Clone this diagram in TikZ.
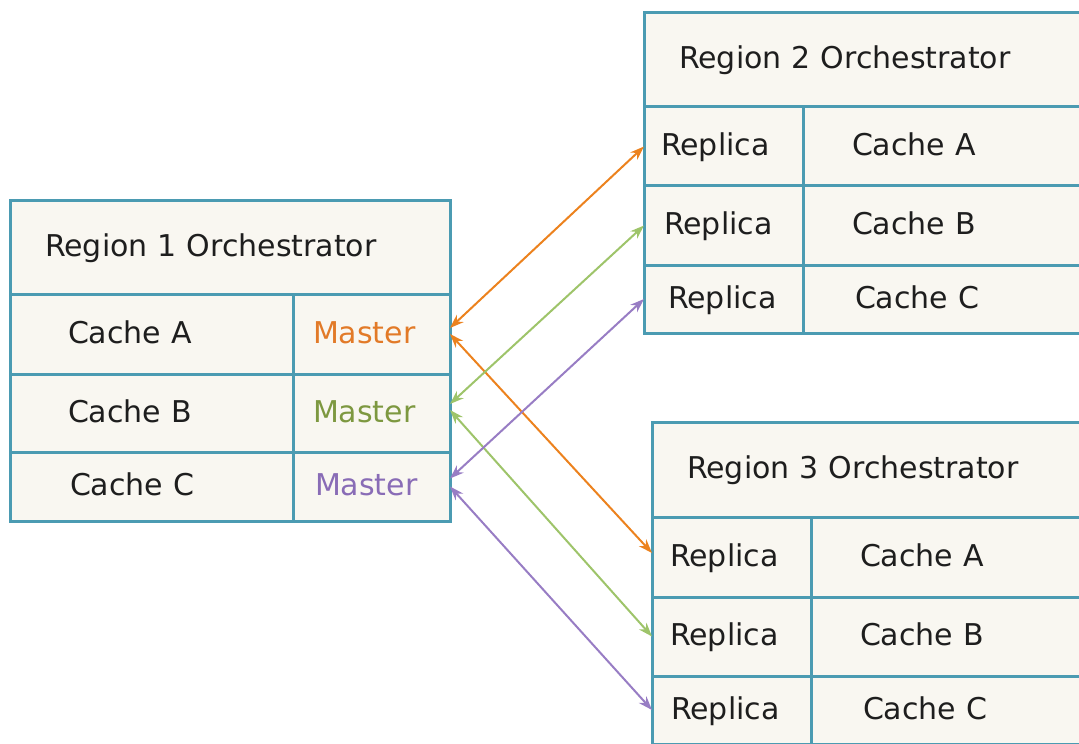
\documentclass[tikz,border=0pt]{standalone}
\usepackage{fontspec}
\setmainfont{DejaVu Sans}
\usetikzlibrary{positioning,arrows.meta}

\definecolor{tblline}{RGB}{75,155,178}
\definecolor{tblfill}{RGB}{249,247,241}
\definecolor{syncorange}{RGB}{236,130,30}
\definecolor{syncgreen}{RGB}{158,196,106}
\definecolor{syncpurple}{RGB}{152,125,196}
\definecolor{masterorange}{RGB}{226,122,40}
\definecolor{mastergreen}{RGB}{125,152,64}
\definecolor{masterpurple}{RGB}{137,108,182}
\definecolor{celltext}{RGB}{30,30,30}

\begin{document}
\begin{tikzpicture}[
  font=\fontsize{15}{18}\selectfont,
  cell/.style={draw=tblline, fill=tblfill, line width=1.5pt, outer sep=0pt, text=celltext,
    inner ysep=0pt, align=left, text height=11pt, text depth=2pt},
  header/.style={cell, inner xsep=17.5pt, text width=#1},
  sync/.style={<->, >={Stealth[length=7pt,width=5pt]}, line width=1pt}
]
% page frame
\useasboundingbox (0,0) rectangle (539.5pt,-371.5pt);
\clip (0,0) rectangle (539.5pt,-371.5pt);

% region 1 (masters)
\node[header=185pt, minimum height=47pt, anchor=north west] (h1) at (5pt,-100pt) {Region 1 Orchestrator};
\node[cell, inner xsep=29pt, text width=83.5pt, minimum height=40pt, below right=0pt and 0pt of h1.south west] (c1a) {Cache A};
\node[cell, inner xsep=10pt, text width=58.5pt, minimum height=40pt, right=0pt of c1a, text=masterorange] (m1a) {Master};
\node[cell, inner xsep=29pt, text width=83.5pt, minimum height=39pt, below right=0pt and 0pt of c1a.south west] (c1b) {Cache B};
\node[cell, inner xsep=10pt, text width=58.5pt, minimum height=39pt, right=0pt of c1b, text=mastergreen] (m1b) {Master};
\node[cell, inner xsep=30pt, text width=81.5pt, minimum height=34.5pt, below right=0pt and 0pt of c1b.south west] (c1c) {Cache C};
\node[cell, inner xsep=11pt, text width=56.5pt, minimum height=34.5pt, right=0pt of c1c, text=masterpurple] (m1c) {Master};

% region 2 (replicas)
\node[header=205pt, minimum height=47pt, anchor=north west] (h2) at (322pt,-6.5pt) {Region 2 Orchestrator};
\node[cell, inner xsep=8.5pt, text width=62.5pt, minimum height=39.5pt, below right=0pt and 0pt of h2.south west] (r2a) {Replica};
\node[cell, inner xsep=24.5pt, text width=111.5pt, minimum height=39.5pt, right=0pt of r2a] (c2a) {Cache A};
\node[cell, inner xsep=10pt, text width=59.5pt, minimum height=39.5pt, below right=0pt and 0pt of r2a.south west] (r2b) {Replica};
\node[cell, inner xsep=24.5pt, text width=111.5pt, minimum height=39.5pt, right=0pt of r2b] (c2b) {Cache B};
\node[cell, inner xsep=12pt, text width=55.5pt, minimum height=34pt, below right=0pt and 0pt of r2b.south west] (r2c) {Replica};
\node[cell, inner xsep=26pt, text width=108.5pt, minimum height=34pt, right=0pt of r2c] (c2c) {Cache C};

% region 3 (replicas)
\node[header=205pt, minimum height=47.5pt, anchor=north west] (h3) at (326pt,-211pt) {Region 3 Orchestrator};
\node[cell, inner xsep=9pt, text width=61.5pt, minimum height=40pt, below right=0pt and 0pt of h3.south west] (r3a) {Replica};
\node[cell, inner xsep=24.5pt, text width=111.5pt, minimum height=40pt, right=0pt of r3a] (c3a) {Cache A};
\node[cell, inner xsep=9pt, text width=61.5pt, minimum height=39.5pt, below right=0pt and 0pt of r3a.south west] (r3b) {Replica};
\node[cell, inner xsep=24.5pt, text width=111.5pt, minimum height=39.5pt, right=0pt of r3b] (c3b) {Cache B};
\node[cell, inner xsep=9.5pt, text width=60.5pt, minimum height=34pt, below right=0pt and 0pt of r3b.south west] (r3c) {Replica};
\node[cell, inner xsep=26pt, text width=108.5pt, minimum height=34pt, right=0pt of r3c] (c3c) {Cache C};

% replication links
\draw[sync, syncorange] ([yshift=3pt]m1a.east) -- (r2a.west);
\draw[sync, syncorange] ([yshift=0pt]m1a.east) -- ([yshift=2pt]r3a.west);
\draw[sync, syncgreen] ([yshift=4.5pt]m1b.east) -- (r2b.west);
\draw[sync, syncgreen] ([yshift=1.5pt]m1b.east) -- (r3b.west);
\draw[sync, syncpurple] ([yshift=4pt]m1c.east) -- (r2c.west);
\draw[sync, syncpurple] ([yshift=0pt]m1c.east) -- (r3c.west);

\end{tikzpicture}
\end{document}
